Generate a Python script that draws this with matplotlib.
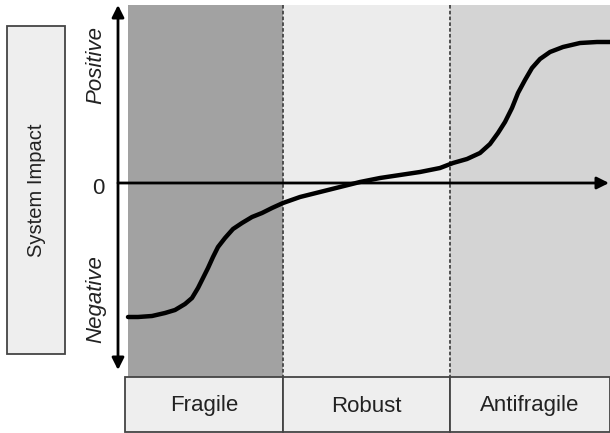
"""
System impact vs. stress: fragile / robust / antifragile
"""

import matplotlib
matplotlib.use("Agg")
import matplotlib.pyplot as plt
from matplotlib.patches import Rectangle

plt.rcParams['font.family'] = ['Liberation Sans', 'DejaVu Sans']

# categories and the pixel span each one takes along the stress axis
categories = ["Fragile", "Robust", "Antifragile"]
region_edges = [128, 283, 450, 610]
region_colors = ["#a2a2a2", "#ececec", "#d4d4d4"]

# response curve (x, y in image pixels, y downward)
curve_x = [128, 138, 152, 165, 175, 185, 192, 198, 203, 208, 213, 218,
           225, 233, 242, 252, 262, 272, 283,
           300, 320, 340, 360, 380, 400, 420, 440,
           453, 467, 480, 490, 498, 505, 512, 518, 525, 532, 540,
           550, 563, 580, 597, 610]
curve_y = [317, 317, 316, 313, 310, 304, 298, 288, 278, 268, 257, 247,
           238, 229, 223, 217, 213, 208, 203,
           197, 192, 187, 182, 178, 175, 172, 168,
           163, 159, 153, 144, 133, 122, 108, 93, 80, 68, 59,
           52, 47, 43, 42, 42]

W, H = 610, 433
fig = plt.figure(figsize=(W / 100, H / 100), dpi=100)
ax = fig.add_axes([0, 0, 1, 1])
ax.set_xlim(0, W)
ax.set_ylim(H, 0)
ax.axis('off')

top, bottom = 5, 377
zero_y = 183

# shaded regions and dotted dividers
for i, name in enumerate(categories):
    x0, x1 = region_edges[i], region_edges[i + 1]
    ax.add_patch(Rectangle((x0, top), x1 - x0, bottom - top,
                           facecolor=region_colors[i], edgecolor='none', zorder=0))
    if i > 0:
        ax.plot([x0, x0], [top, bottom], color='#444444', lw=1.3,
                ls=(0, (2, 1.2)), zorder=1)
    # label boxes underneath
    bx0 = 125 if i == 0 else x0
    ax.add_patch(Rectangle((bx0, bottom), x1 - bx0, 432 - bottom,
                           facecolor='#eeeeee', edgecolor='#444444', lw=1.3, zorder=2))
    ax.text((bx0 + x1) / 2, 406, name, ha='center', va='center',
            fontsize=16, color='#222222', zorder=3)

# axes arrows
ax.annotate('', xy=(118, 5), xytext=(118, 370),
            arrowprops=dict(arrowstyle='<|-|>', color='black', lw=2,
                            mutation_scale=18, shrinkA=0, shrinkB=0), zorder=4)
ax.annotate('', xy=(609, zero_y), xytext=(118, zero_y),
            arrowprops=dict(arrowstyle='-|>', color='black', lw=2,
                            mutation_scale=18, shrinkA=0, shrinkB=0), zorder=4)

# curve
ax.plot(curve_x, curve_y, color='black', lw=3.2, solid_joinstyle='round',
        solid_capstyle='round', zorder=5)

# y-axis labels
ax.text(98, 189, '0', ha='center', va='center', fontsize=16, color='#222222')
ax.text(96, 65, 'Positive', ha='center', va='center', rotation=90,
        style='italic', fontsize=16, color='#222222')
ax.text(96, 299, 'Negative', ha='center', va='center', rotation=90,
        style='italic', fontsize=16, color='#222222')

# left label box
ax.add_patch(Rectangle((7, 26), 58, 328, facecolor='#eeeeee',
                       edgecolor='#444444', lw=1.3))
ax.text(36, 190, 'System Impact', ha='center', va='center', rotation=90,
        fontsize=14.5, color='#222222')

fig.savefig('out.png', dpi=100)
